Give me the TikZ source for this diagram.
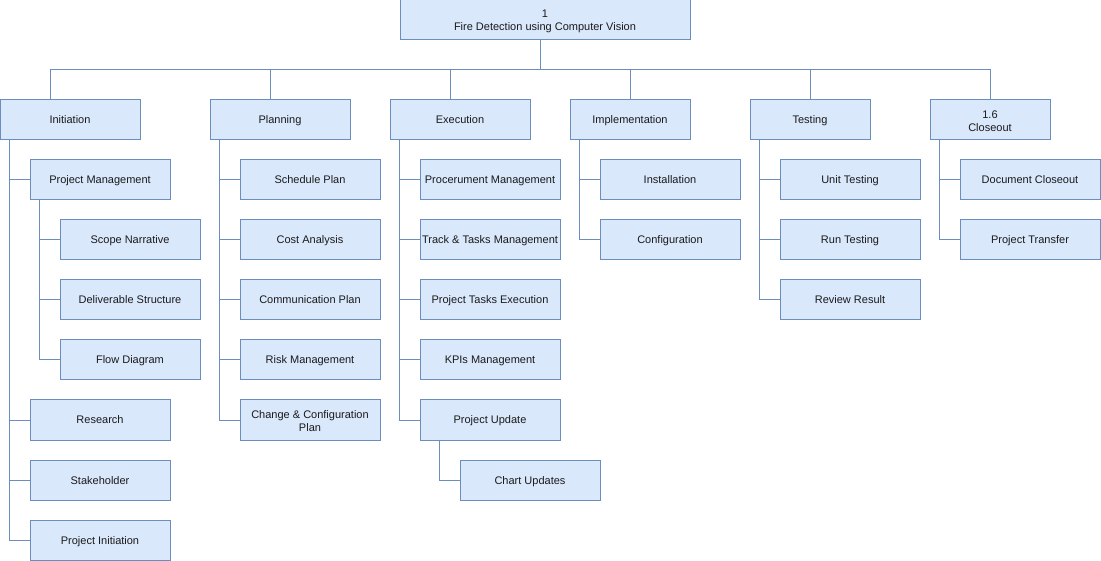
\documentclass[tikz,border=0pt]{standalone}
\usepackage{fontspec}
\setmainfont{Liberation Sans}
\definecolor{boxfill}{HTML}{DAE8FC}
\definecolor{boxline}{HTML}{6C8EBF}
\definecolor{txt}{HTML}{1A1A1A}
\newcommand\toplift[1]{\rule{0pt}{#1}}
\begin{document}
\begin{tikzpicture}[x=1pt,y=-1pt,
  boxbase/.style={draw=boxline,fill=boxfill,line width=1pt,rectangle,inner sep=0pt,
    minimum height=40pt,text=txt,align=center,font=\fontsize{11}{13}\selectfont},
  box/.style={boxbase,text height=10pt,text depth=2pt},
  twoline/.style={boxbase},
  w140/.style={box,minimum width=140pt},
  w120/.style={box,minimum width=120pt},
  edge/.style={draw=boxline,line width=1pt}]
\useasboundingbox (0,0) rectangle (1101,561);
% root
\node[twoline,minimum width=290pt] (root) at (545,20) {\toplift{11pt}1\\Fire Detection using Computer Vision};
% level 1
\node[w140] (init) at (70,120) {Initiation};
\node[w140] (plan) at (280,120) {Planning};
\node[w140] (exec) at (460,120) {Execution};
\node[w120] (impl) at (630,120) {Implementation};
\node[w120] (test) at (810,120) {Testing};
\node[twoline,minimum width=120pt] (close) at (990,120) {\toplift{10pt}1.6\\Closeout};
\coordinate (bus) at (540,70);
\draw[edge] (bus |- root.south) -- (bus);
\draw[edge] (bus) -| ([xshift=-20pt]init.north);
\draw[edge] (bus) -| ([xshift=-10pt]plan.north);
\draw[edge] (bus) -| ([xshift=-10pt]exec.north);
\draw[edge] (bus) -| (impl.north);
\draw[edge] (bus) -| (test.north);
\draw[edge] (bus) -| (close.north);
% Initiation
\node[w140] (pm) at (100,180) {Project Management};
\node[w140] (scope) at (130,240) {Scope Narrative};
\node[w140] (deliv) at (130,300) {Deliverable Structure};
\node[w140] (flow) at (130,360) {Flow Diagram};
\node[w140] (research) at (100,420) {Research};
\node[w140] (stake) at (100,480) {Stakeholder};
\node[w140] (pinit) at (100,540) {Project Initiation};
\foreach \c in {pm,research,stake,pinit}
  \draw[edge] ([xshift=10pt]init.south west) |- (\c.west);
\foreach \c in {scope,deliv,flow}
  \draw[edge] ([xshift=10pt]pm.south west) |- (\c.west);
% Planning
\node[w140] (sched) at (310,180) {Schedule Plan};
\node[w140] (cost) at (310,240) {Cost Analysis};
\node[w140] (comm) at (310,300) {Communication Plan};
\node[w140] (risk) at (310,360) {Risk Management};
\node[twoline,minimum width=140pt] (change) at (310,420) {\toplift{10pt}Change \& Configuration\\Plan};
\foreach \c in {sched,cost,comm,risk,change}
  \draw[edge] ([xshift=10pt]plan.south west) |- (\c.west);
% Execution
\node[w140] (proc) at (490,180) {Procerument Management};
\node[w140] (track) at (490,240) {Track \& Tasks Management};
\node[w140] (ptexec) at (490,300) {Project Tasks Execution};
\node[w140] (kpi) at (490,360) {KPIs Management};
\node[w140] (pupd) at (490,420) {Project Update};
\node[w140] (chart) at (530,480) {Chart Updates};
\foreach \c in {proc,track,ptexec,kpi,pupd}
  \draw[edge] ([xshift=10pt]exec.south west) |- (\c.west);
\draw[edge] ([xshift=20pt]pupd.south west) |- (chart.west);
% Implementation
\node[w140] (inst) at (670,180) {Installation};
\node[w140] (conf) at (670,240) {Configuration};
\foreach \c in {inst,conf}
  \draw[edge] ([xshift=10pt]impl.south west) |- (\c.west);
% Testing
\node[w140] (unit) at (850,180) {Unit Testing};
\node[w140] (run) at (850,240) {Run Testing};
\node[w140] (review) at (850,300) {Review Result};
\foreach \c in {unit,run,review}
  \draw[edge] ([xshift=10pt]test.south west) |- (\c.west);
% Closeout
\node[w140] (doc) at (1030,180) {Document Closeout};
\node[w140] (transfer) at (1030,240) {Project Transfer};
\foreach \c in {doc,transfer}
  \draw[edge] ([xshift=10pt]close.south west) |- (\c.west);
\end{tikzpicture}
\end{document}
